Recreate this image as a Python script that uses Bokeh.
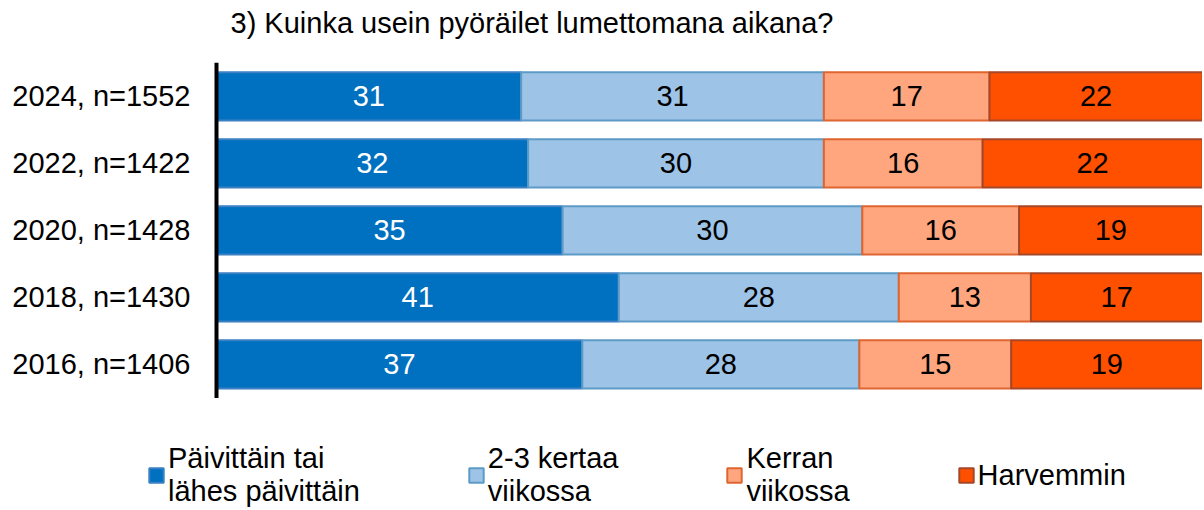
from bokeh.plotting import figure
from bokeh.models import ColumnDataSource, Legend, LegendItem, Range1d, Label
from bokeh.core.properties import value
from bokeh.embed import file_html
from bokeh.resources import INLINE

FONT = "Liberation Sans"

title_text = "3) Kuinka usein pyöräilet lumettomana aikana?"
categories = ["2016, n=1406", "2018, n=1430", "2020, n=1428", "2022, n=1422", "2024, n=1552"]
series_names = ["Päivittäin tai\nlähes päivittäin", "2-3 kertaa\nviikossa", "Kerran\nviikossa", "Harvemmin"]

daily = [37.1, 40.8, 35.1, 31.6, 30.9]
weekly_2_3 = [28.1, 28.4, 30.4, 30.0, 30.7]
weekly_once = [15.4, 13.4, 15.9, 16.1, 16.8]
rarely = [19.4, 17.4, 18.6, 22.3, 21.6]

fills = ["#0070C0", "#9DC3E6", "#FFA67F", "#FF5000"]
lines = ["#3A80C2", "#5E9AC6", "#DF6530", "#A5482A"]
text_colors = ["white", "black", "black", "black"]

series = [daily, weekly_2_3, weekly_once, rarely]
idx = list(range(len(categories)))
n = len(categories)

# frame spans the whole canvas; value 0 sits 216px from the left edge
p = figure(width=1202, height=510, x_range=Range1d(-21.906, 100),
           y_range=Range1d(-2.18, 5.43),
           output_backend="svg", toolbar_location=None,
           min_border_left=0, min_border_right=0, min_border_top=0, min_border_bottom=0)

p.add_layout(Label(x=230, y=488, x_units="screen", y_units="screen", text=title_text,
                   text_font=FONT, text_font_size="29px", text_color="black",
                   text_align="left", text_baseline="alphabetic"))

items = []
left = [0.0] * n
for i, vals in enumerate(series):
    right = [l + v for l, v in zip(left, vals)]
    src = ColumnDataSource(dict(
        y=idx, left=left, right=right,
        mid=[(l + r) / 2 for l, r in zip(left, right)],
        label=["%d" % round(v) for v in vals],
    ))
    r = p.hbar(y="y", left="left", right="right", height=0.72, source=src,
               fill_color=fills[i], line_color=lines[i], line_width=2)
    p.text(x="mid", y="y", text="label", source=src, text_color=text_colors[i],
           text_font=value(FONT), text_font_size="29px",
           text_align="center", text_baseline="middle")
    items.append(LegendItem(label=series_names[i], renderers=[r]))
    left = right

# category axis: labels and axis line at value 0
cat_src = ColumnDataSource(dict(x=[0] * n, y=idx, text=categories))
p.text(x="x", y="y", text="text", source=cat_src, x_offset=-26,
       text_font=value(FONT), text_font_size="29px", text_color="black",
       text_align="right", text_baseline="middle")
p.segment(x0=[0], y0=[-0.5], x1=[0], y1=[n - 0.5], line_color="black", line_width=4)

legend = Legend(items=items, orientation="horizontal", location=(147, 2),
                glyph_width=18, glyph_height=18, label_standoff=3, spacing=107,
                padding=0, margin=0, border_line_color=None, background_fill_alpha=0,
                label_text_font=FONT, label_text_font_size="29px",
                label_text_line_height=1.1, label_text_color="black")
p.add_layout(legend, "center")

p.xaxis.visible = False
p.yaxis.visible = False
p.xgrid.visible = False
p.ygrid.visible = False
p.outline_line_color = None

open("out.html", "w").write(file_html(p, INLINE))
